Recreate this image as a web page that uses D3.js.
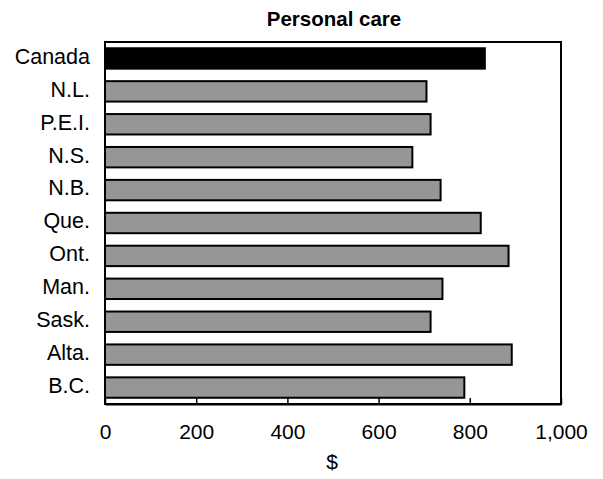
<!DOCTYPE html>
<html>
<head>
<meta charset="utf-8">
<script src="https://cdn.jsdelivr.net/npm/d3@7"></script>
<style>
  body { margin: 0; background: #fff; }
  text { font-family: "Liberation Sans", Arial, sans-serif; fill: #000; }
</style>
</head>
<body>
<svg id="chart" width="603" height="479"></svg>
<script>
const categories = ["Canada", "N.L.", "P.E.I.", "N.S.", "N.B.", "Que.", "Ont.", "Man.", "Sask.", "Alta.", "B.C."];
const values = [833, 705, 714, 674, 736, 824, 885, 740, 714, 892, 788];
const tickValues = [0, 200, 400, 600, 800, 1000];
const title = "Personal care";
const xLabel = "$";

const svg = d3.select("#chart");
const mLeft = 105, mRight = 561, mTop = 42, mBottom = 404;

const x = d3.scaleLinear().domain([0, 1000]).range([mLeft, mRight]);
const y = d3.scaleBand().domain(categories).range([mTop, mBottom]).paddingInner(0.38).paddingOuter(0.19);

// bars
svg.append("g").selectAll("rect")
  .data(categories.map((c, i) => ({ c, v: values[i] })))
  .join("rect")
  .attr("x", x(0))
  .attr("y", d => y(d.c))
  .attr("width", d => x(d.v) - x(0))
  .attr("height", y.bandwidth())
  .attr("fill", d => d.c === "Canada" ? "#000" : "#969696")
  .attr("stroke", "#000")
  .attr("stroke-width", 2);

// frame
svg.append("rect")
  .attr("x", mLeft).attr("y", mTop)
  .attr("width", mRight - mLeft).attr("height", mBottom - mTop)
  .attr("fill", "none").attr("stroke", "#000").attr("stroke-width", 2);

// x axis (ticks pointing inward)
const xAxis = d3.axisBottom(x).tickValues(tickValues).tickSizeInner(-6).tickSizeOuter(0).tickPadding(20)
  .tickFormat(d3.format(","));
const gx = svg.append("g").attr("transform", `translate(0,${mBottom})`).call(xAxis);
gx.select(".domain").attr("stroke", "#000").attr("stroke-width", 2);
gx.selectAll(".tick line").attr("stroke", "#000").attr("stroke-width", 1.5);
gx.selectAll(".tick text").attr("font-size", 21).attr("font-family", "Liberation Sans, Arial, sans-serif").attr("fill", "#000");

// y axis labels
const yAxis = d3.axisLeft(y).tickSize(0).tickPadding(15);
const gy = svg.append("g").attr("transform", `translate(${mLeft},0)`).call(yAxis);
gy.select(".domain").remove();
gy.selectAll(".tick text").attr("font-size", 21.5).attr("dy", "0.25em")
  .attr("font-family", "Liberation Sans, Arial, sans-serif").attr("fill", "#000");

// title
svg.append("text").attr("x", (mLeft + mRight) / 2 + 1).attr("y", 26)
  .attr("text-anchor", "middle").attr("font-size", 20.5).attr("font-weight", "bold").text(title);

// x label
svg.append("text").attr("x", (mLeft + mRight) / 2 - 1).attr("y", 469)
  .attr("text-anchor", "middle").attr("font-size", 21).text(xLabel);
</script>
</body>
</html>
